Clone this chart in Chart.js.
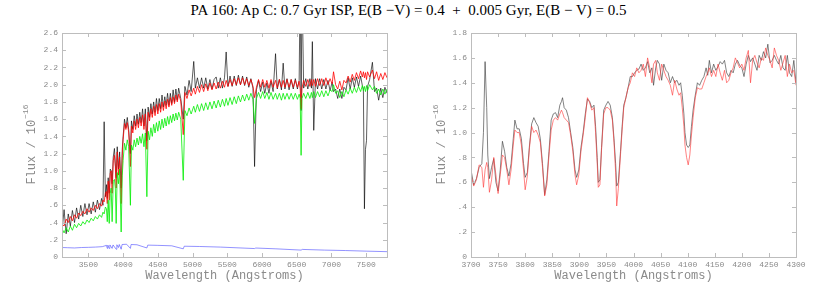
<!DOCTYPE html>
<html>
<head>
<meta charset="utf-8">
<script src="https://cdn.jsdelivr.net/npm/chart.js@4.4.1/dist/chart.umd.min.js"></script>
<style>
  body { margin: 0; background: #fff; }
  #wrap { position: relative; width: 817px; height: 286px; overflow: hidden; }
  #title { position: absolute; left: 0; top: 2px; width: 817px; text-align: center;
           font: 15px "Liberation Serif", "DejaVu Serif", serif; color: #000; white-space: pre; }
  canvas { position: absolute; top: 0; }
  #left { left: 0; }
  #right { left: 408px; }
</style>
</head>
<body>
<div id="wrap">
  <div id="title">PA 160: Ap C: 0.7 Gyr ISP, E(B −V) = 0.4  +  0.005 Gyr, E(B − V) = 0.5</div>
  <canvas id="left" width="408" height="286"></canvas>
  <canvas id="right" width="409" height="286"></canvas>
</div>
<script>
// ---- left panel: full spectrum ----
const waveFull = [3120,3150,3180,3210,3240,3270,3300,3330,3360,3390,3420,3450,3480,3510,3540,3570,3600,3630,3660,3690,
  3710,3727,3745,3760,3772,3785,3800,3815,3828,3842,3858,3875,3888,3900,3915,3933,3950,3972,3988,4000,
  4020,4040,4060,4080,4105,4120,4140,4160,4180,4200,4220,4240,4260,4280,4300,4320,4342,4360,4380,4400,
  4420,4440,4460,4480,4500,4520,4540,4560,4580,4600,4620,4640,4660,4680,4700,4720,4740,4760,4780,4800,
  4830,4866,4890,4920,4950,4980,5017,5040,5070,5100,5130,5160,5190,5220,5250,5280,5310,5340,5370,5400,
  5430,5460,5484,5510,5540,5570,5600,5630,5660,5690,5720,5750,5780,5810,5840,5870,5893,5920,5950,5980,
  6010,6040,6070,6100,6130,6160,6195,6220,6250,6280,6305,6330,6360,6390,6420,6450,6480,6510,6535,6550,
  6563,6576,6600,6630,6660,6690,6712,6725,6745,6770,6800,6830,6860,6890,6920,6950,6980,7010,7030,7060,
  7090,7120,7150,7180,7210,7240,7270,7300,7330,7360,7390,7420,7445,7460,7475,7490,7505,7520,7550,7590,
  7620,7650,7680,7710,7740,7770,7800];

const observedFull = [0.30,0.55,0.27,0.50,0.36,0.54,0.40,0.57,0.44,0.60,0.47,0.62,0.49,0.62,0.50,0.64,0.52,0.66,0.55,0.68,
  0.60,1.57,0.70,0.84,0.68,0.92,0.74,1.02,1.00,0.85,1.16,1.26,1.08,0.92,1.28,1.02,1.22,0.80,1.25,1.40,
  1.60,1.50,1.62,1.48,1.20,1.58,1.48,1.64,1.52,1.66,1.54,1.68,1.56,1.72,1.52,1.72,1.35,1.74,1.62,1.78,
  1.66,1.80,1.68,1.84,1.70,1.84,1.72,1.88,1.74,1.86,1.76,1.90,1.76,1.90,1.78,1.94,1.80,1.95,1.82,1.96,
  1.84,1.60,1.98,1.88,2.05,1.92,2.27,1.96,2.08,1.96,2.08,1.96,2.08,1.95,2.06,1.95,2.06,2.09,1.96,2.08,
  1.96,2.08,2.38,1.98,2.10,1.98,2.10,1.99,2.11,2.00,2.10,1.99,2.09,1.97,2.07,1.96,1.05,1.94,2.05,1.92,
  2.03,1.90,2.02,1.90,2.04,1.92,2.36,1.95,2.06,1.94,2.25,1.95,2.07,1.94,2.06,1.95,2.07,1.95,2.05,3.20,
  1.70,3.20,1.96,2.07,1.95,2.07,1.96,2.50,1.47,2.07,1.95,2.07,1.95,2.06,1.95,2.05,1.93,2.03,1.92,1.95,
  1.84,1.95,1.84,1.97,1.94,2.08,1.95,2.08,1.97,2.09,1.98,2.10,1.99,1.95,0.56,1.25,1.35,1.98,2.06,2.26,
  1.92,1.96,1.82,1.96,1.85,1.97,1.90];

const model07Full = [0.38,0.36,0.44,0.40,0.47,0.42,0.49,0.45,0.51,0.48,0.53,0.50,0.56,0.52,0.57,0.54,0.60,0.56,0.62,0.59,
  0.66,0.64,0.74,0.76,0.62,0.88,0.66,0.97,1.00,0.74,1.12,1.18,1.05,0.80,1.22,0.95,1.16,0.62,1.18,1.36,
  1.55,1.48,1.56,1.45,1.05,1.52,1.44,1.58,1.48,1.60,1.50,1.62,1.52,1.65,1.48,1.66,1.25,1.68,1.58,1.72,
  1.62,1.75,1.64,1.77,1.66,1.78,1.68,1.80,1.70,1.81,1.72,1.83,1.74,1.85,1.76,1.86,1.78,1.88,1.80,1.89,
  1.81,1.42,1.91,1.84,1.94,1.87,1.96,1.89,1.98,1.91,2.00,1.92,2.01,1.93,2.02,1.94,2.02,1.95,2.03,1.96,
  2.04,1.97,2.05,1.98,2.06,1.99,2.07,2.00,2.08,2.00,2.08,2.00,2.07,1.99,2.06,1.98,1.85,1.97,2.06,1.97,
  2.06,1.97,2.05,1.96,2.06,1.97,2.05,1.96,2.06,1.97,2.05,1.97,2.06,1.97,2.06,1.97,2.05,1.97,2.04,1.95,
  1.72,1.96,2.05,1.98,2.06,1.98,2.06,1.99,2.06,1.98,2.07,1.99,2.07,1.99,2.08,2.00,2.07,2.01,2.15,2.00,
  1.95,2.04,1.94,2.05,2.02,2.10,2.03,2.12,2.05,2.14,2.07,2.16,2.09,2.15,2.08,2.14,2.06,2.15,2.09,2.17,
  2.07,2.15,2.05,2.13,2.06,2.14,2.08];

const youngFull = [0.33,0.28,0.34,0.29,0.36,0.31,0.38,0.34,0.39,0.36,0.41,0.38,0.43,0.40,0.45,0.42,0.47,0.44,0.49,0.46,
  0.52,0.50,0.58,0.56,0.41,0.66,0.39,0.74,0.80,0.41,0.88,0.90,0.80,0.39,0.98,0.85,1.02,0.29,0.95,1.12,
  1.32,1.24,1.36,1.28,0.60,1.30,1.24,1.36,1.28,1.38,1.30,1.40,1.32,1.43,1.28,1.44,0.70,1.46,1.36,1.50,
  1.40,1.54,1.44,1.56,1.46,1.58,1.48,1.60,1.50,1.61,1.52,1.63,1.54,1.64,1.56,1.66,1.58,1.67,1.59,1.68,
  1.60,0.89,1.70,1.64,1.73,1.66,1.75,1.68,1.77,1.69,1.78,1.70,1.79,1.71,1.80,1.72,1.81,1.73,1.82,1.74,
  1.83,1.75,1.84,1.76,1.85,1.77,1.86,1.78,1.87,1.80,1.88,1.81,1.89,1.82,1.90,1.83,1.55,1.84,1.91,1.84,
  1.92,1.84,1.91,1.83,1.91,1.83,1.90,1.83,1.90,1.82,1.90,1.83,1.90,1.83,1.90,1.83,1.90,1.83,1.89,1.84,
  1.18,1.84,1.90,1.84,1.91,1.84,1.91,1.85,1.92,1.85,1.92,1.86,1.93,1.86,1.93,1.87,1.94,1.92,2.00,1.90,
  1.93,1.85,1.92,1.86,1.94,1.89,1.96,1.90,1.97,1.91,1.98,1.92,1.99,1.93,1.98,1.92,1.99,1.93,2.00,1.94,
  1.98,1.90,1.95,1.88,1.95,1.89,1.95];

// error spectrum (blue)
const waveErr = [3120,3200,3300,3400,3500,3600,3700,3740,3750,3760,3772,3780,3800,3810,3842,3855,3900,3910,3933,3945,
  3972,3985,4050,4105,4115,4200,4342,4355,4500,4700,4866,4880,5100,5400,5893,5910,6200,6563,6580,6900,
  7200,7500,7800];
const errFull = [0.110,0.108,0.105,0.110,0.112,0.115,0.120,0.130,0.135,0.135,0.100,0.138,0.100,0.140,0.100,0.140,0.090,0.142,0.110,0.145,
  0.090,0.145,0.148,0.100,0.145,0.142,0.105,0.138,0.135,0.130,0.095,0.125,0.122,0.115,0.098,0.104,0.095,0.080,0.088,0.080,
  0.075,0.068,0.062];

const xTicksLeft = [3500,4000,4500,5000,5500,6000,6500,7000,7500];
const yTicksLeft = [0,0.2,0.4,0.6,0.8,1.0,1.2,1.4,1.6,1.8,2.0,2.2,2.4,2.6];
const yLabelsLeft = ['0','.2','.4','.6','.8','1.0','1.2','1.4','1.6','1.8','2.0','2.2','2.4','2.6'];

// ---- right panel: 3700-4300 zoom ----
const waveZoom = [3700,3705,3710,3715,3720,3723,3726,3729,3731,3734,3738,3742,3746,3750,3754,3758,3762,3766,3770,3774,
  3778,3781,3785,3789,3793,3797,3800,3804,3808,3812,3816,3820,3824,3828,3832,3836,3840,3844,3848,3852,
  3856,3860,3864,3867,3869,3872,3876,3880,3884,3888,3892,3895,3899,3903,3907,3911,3915,3919,3923,3927,
  3930,3933,3935,3938,3941,3945,3949,3953,3957,3961,3964,3967,3969,3972,3976,3979,3982,3986,3990,3994,
  3998,4002,4006,4010,4014,4018,4022,4026,4030,4034,4037,4041,4044,4048,4052,4056,4060,4064,4068,4072,
  4076,4080,4084,4087,4090,4093,4095,4098,4101,4104,4107,4110,4114,4118,4122,4126,4130,4134,4137,4140,
  4144,4148,4152,4156,4160,4164,4168,4172,4176,4180,4184,4188,4192,4196,4200,4204,4208,4212,4216,4220,
  4224,4228,4232,4236,4240,4244,4248,4252,4256,4260,4264,4268,4272,4276,4280,4284,4288,4292,4296,4300];

const observedZoom = [0.70,0.58,0.63,0.72,0.75,1.00,1.57,1.20,0.82,0.63,0.72,0.79,0.60,0.53,0.70,0.93,0.85,0.72,0.65,0.75,
  0.95,1.10,1.03,1.03,0.95,0.75,0.64,0.68,0.90,1.07,1.12,1.08,1.05,0.95,0.75,0.50,0.62,0.85,1.10,1.15,
  1.16,1.12,1.22,1.25,1.28,1.20,1.18,1.12,1.00,0.88,0.70,0.64,0.70,0.88,1.00,1.15,1.27,1.25,1.20,1.22,
  1.05,0.80,0.60,0.62,0.88,1.18,1.22,1.25,1.22,1.12,0.95,0.75,0.57,0.60,0.85,1.05,1.22,1.28,1.36,1.45,
  1.45,1.48,1.50,1.51,1.55,1.50,1.52,1.57,1.48,1.52,1.38,1.52,1.58,1.55,1.42,1.55,1.50,1.48,1.40,1.45,
  1.40,1.42,1.38,1.40,1.30,1.15,1.00,0.90,0.88,0.90,1.05,1.18,1.30,1.40,1.38,1.42,1.45,1.52,1.46,1.58,
  1.48,1.55,1.50,1.53,1.57,1.55,1.58,1.48,1.45,1.50,1.48,1.55,1.58,1.54,1.52,1.45,1.55,1.62,1.57,1.60,
  1.55,1.50,1.62,1.58,1.65,1.60,1.71,1.56,1.58,1.62,1.58,1.55,1.62,1.52,1.50,1.62,1.48,1.45,1.58,1.40];

const modelZoom = [0.66,0.57,0.62,0.74,0.72,0.56,0.70,0.76,0.72,0.52,0.62,0.80,0.66,0.51,0.66,0.82,0.80,0.70,0.58,0.70,
  0.90,1.02,1.00,1.00,0.90,0.70,0.54,0.65,0.88,1.05,1.00,1.02,0.98,0.92,0.72,0.49,0.58,0.82,1.02,1.10,
  1.12,1.10,1.15,1.18,1.16,1.12,1.10,1.08,0.98,0.85,0.66,0.58,0.66,0.85,0.98,1.12,1.28,1.24,1.18,1.20,
  1.00,0.75,0.56,0.58,0.86,1.15,1.20,1.20,1.18,1.10,0.92,0.68,0.41,0.55,0.82,1.02,1.20,1.28,1.36,1.40,
  1.48,1.45,1.52,1.48,1.50,1.55,1.45,1.60,1.52,1.40,1.55,1.58,1.48,1.42,1.55,1.50,1.45,1.42,1.38,1.30,
  1.42,1.35,1.30,1.32,1.20,1.05,0.90,0.80,0.74,0.82,0.98,1.12,1.28,1.36,1.35,1.35,1.40,1.45,1.48,1.52,
  1.45,1.50,1.45,1.55,1.48,1.42,1.50,1.40,1.42,1.48,1.52,1.60,1.56,1.52,1.55,1.50,1.60,1.66,1.40,1.58,
  1.62,1.56,1.52,1.60,1.58,1.68,1.62,1.58,1.52,1.68,1.62,1.58,1.50,1.56,1.62,1.45,1.55,1.48,1.50,1.38];

const xTicksRight = [3700,3750,3800,3850,3900,3950,4000,4050,4100,4150,4200,4250,4300];
const yTicksRight = [0,0.2,0.4,0.6,0.8,1.0,1.2,1.4,1.6,1.8];
const yLabelsRight = ['0','.2','.4','.6','.8','1.0','1.2','1.4','1.6','1.8'];

const GREY = '#8a8a8a';
const MONO = '"Liberation Mono", "DejaVu Sans Mono", monospace';

function pts(xs, ys) {
  return xs.map((x, i) => ({ x: x, y: ys[i] }));
}

// frame, inward ticks on all four sides, and the y title with superscript
const framePlugin = {
  id: 'frame',
  afterDraw(chart, args, opts) {
    const ctx = chart.ctx;
    const a = chart.chartArea;
    const sx = chart.scales.x, sy = chart.scales.y;
    ctx.save();
    ctx.strokeStyle = '#bdbdbd';
    ctx.lineWidth = 1;
    ctx.strokeRect(Math.round(a.left) + 0.5, Math.round(a.top) + 0.5,
                   Math.round(a.right - a.left), Math.round(a.bottom - a.top));
    ctx.beginPath();
    sx.ticks.forEach(t => {
      const px = Math.round(sx.getPixelForValue(t.value)) + 0.5;
      ctx.moveTo(px, a.bottom); ctx.lineTo(px, a.bottom - 4);
      ctx.moveTo(px, a.top); ctx.lineTo(px, a.top + 4);
    });
    sy.ticks.forEach(t => {
      const py = Math.round(sy.getPixelForValue(t.value)) + 0.5;
      ctx.moveTo(a.left, py); ctx.lineTo(a.left + 4, py);
      ctx.moveTo(a.right, py); ctx.lineTo(a.right - 4, py);
    });
    ctx.stroke();

    ctx.translate(opts.titleX, (a.top + a.bottom) / 2);
    ctx.rotate(-Math.PI / 2);
    ctx.fillStyle = GREY;
    ctx.textBaseline = 'middle';
    ctx.font = '12px ' + MONO;
    const main = 'Flux / 10';
    const w1 = ctx.measureText(main).width;
    ctx.font = '8px ' + MONO;
    const sup = '\u221216';
    const w2 = ctx.measureText(sup).width;
    const x0 = -(w1 + w2) / 2;
    ctx.font = '12px ' + MONO;
    ctx.fillText(main, x0, 0);
    ctx.font = '8px ' + MONO;
    ctx.fillText(sup, x0 + w1 + 1, -6);
    ctx.restore();
  }
};

function makeChart(id, datasets, xr, yr, xTicks, yTicks, yLabels, yWidth, padRight, titleX) {
  new Chart(document.getElementById(id), {
    type: 'line',
    data: { datasets: datasets },
    plugins: [framePlugin],
    options: {
      responsive: false,
      animation: false,
      events: [],
      layout: { padding: { top: 33, right: padRight, bottom: 0, left: 0 } },
      elements: { point: { radius: 0 }, line: { tension: 0 } },
      plugins: { legend: { display: false }, tooltip: { enabled: false }, frame: { titleX: titleX } },
      scales: {
        x: {
          type: 'linear', min: xr[0], max: xr[1],
          afterBuildTicks: s => { s.ticks = xTicks.map(v => ({ value: v })); },
          afterFit: s => { s.height = 29; },
          grid: { display: false, drawTicks: false },
          border: { display: false },
          ticks: { color: GREY, font: { family: MONO, size: 8 }, padding: 3, maxRotation: 0, autoSkip: false,
                   callback: v => String(v) },
          title: { display: true, text: 'Wavelength (Angstroms)', color: GREY,
                   font: { family: MONO, size: 12 }, padding: { top: 0, bottom: 3 } }
        },
        y: {
          type: 'linear', min: yr[0], max: yr[1],
          afterBuildTicks: s => { s.ticks = yTicks.map(v => ({ value: v })); },
          afterFit: s => { s.width = yWidth; },
          grid: { display: false, drawTicks: false },
          border: { display: false },
          ticks: { color: GREY, font: { family: MONO, size: 8 }, padding: 4,
                   callback: (v, i) => yLabels[i] }
        }
      }
    }
  });
}

makeChart('left', [
  { data: pts(waveErr, errFull), borderColor: '#4a4aff', borderWidth: 0.6, order: 1 },
  { data: pts(waveFull, youngFull), borderColor: '#00ee00', borderWidth: 0.8, order: 2 },
  { data: pts(waveFull, model07Full), borderColor: '#ff0000', borderWidth: 0.8, order: 3 },
  { data: pts(waveFull, observedFull), borderColor: 'rgba(0,0,0,0.8)', borderWidth: 0.8, order: 4 }
], [3120, 7800], [0, 2.6], xTicksLeft, yTicksLeft, yLabelsLeft, 62, 21, 32);

makeChart('right', [
  { data: pts(waveZoom, modelZoom), borderColor: 'rgba(255,60,60,0.8)', borderWidth: 0.8, order: 1 },
  { data: pts(waveZoom, observedZoom), borderColor: 'rgba(60,60,60,0.8)', borderWidth: 0.8, order: 2 }
], [3700, 4300], [0, 1.8], xTicksRight, yTicksRight, yLabelsRight, 63, 21, 34);
</script>
</body>
</html>
